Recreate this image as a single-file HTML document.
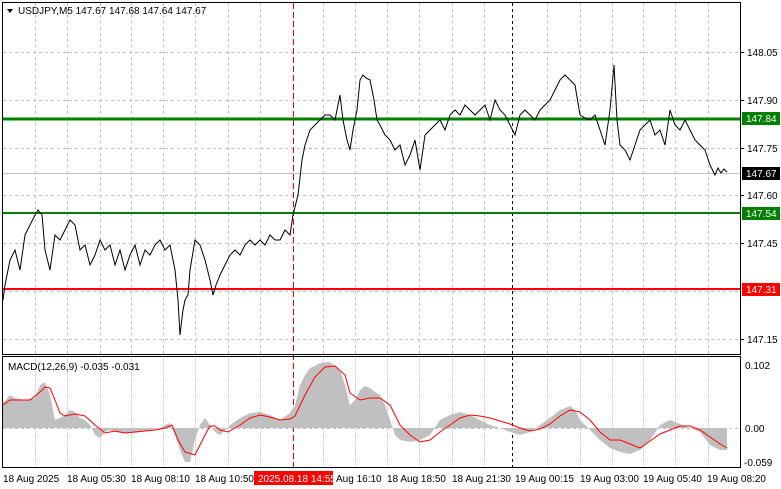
<!DOCTYPE html>
<html><head><meta charset="utf-8"><style>
html,body{margin:0;padding:0;background:#fff;width:781px;height:489px;overflow:hidden}
svg{display:block;font-family:"Liberation Sans",sans-serif;font-size:10px}
</style></head><body>
<svg width="781" height="489" viewBox="0 0 781 489">
<rect width="781" height="489" fill="#fff"/>
<g stroke="#c0c0c0" stroke-dasharray="3,3" stroke-width="1">
<line x1="3" y1="52.5" x2="740" y2="52.5"/><line x1="3" y1="100.5" x2="740" y2="100.5"/>
<line x1="3" y1="148.5" x2="740" y2="148.5"/><line x1="3" y1="195.5" x2="740" y2="195.5"/>
<line x1="3" y1="243.5" x2="740" y2="243.5"/><line x1="3" y1="291.5" x2="740" y2="291.5"/>
<line x1="3" y1="339.5" x2="740" y2="339.5"/>
<line x1="3" y1="428.5" x2="740" y2="428.5"/>
<g id="vg">
<line x1="35.5" y1="3" x2="35.5" y2="354"/><line x1="67.5" y1="3" x2="67.5" y2="354"/><line x1="100.5" y1="3" x2="100.5" y2="354"/><line x1="131.5" y1="3" x2="131.5" y2="354"/><line x1="163.5" y1="3" x2="163.5" y2="354"/><line x1="195.5" y1="3" x2="195.5" y2="354"/><line x1="228.5" y1="3" x2="228.5" y2="354"/><line x1="260.5" y1="3" x2="260.5" y2="354"/><line x1="323.5" y1="3" x2="323.5" y2="354"/><line x1="355.5" y1="3" x2="355.5" y2="354"/><line x1="387.5" y1="3" x2="387.5" y2="354"/><line x1="419.5" y1="3" x2="419.5" y2="354"/><line x1="452.5" y1="3" x2="452.5" y2="354"/><line x1="484.5" y1="3" x2="484.5" y2="354"/><line x1="547.5" y1="3" x2="547.5" y2="354"/><line x1="580.5" y1="3" x2="580.5" y2="354"/><line x1="612.5" y1="3" x2="612.5" y2="354"/><line x1="643.5" y1="3" x2="643.5" y2="354"/><line x1="675.5" y1="3" x2="675.5" y2="354"/><line x1="708.5" y1="3" x2="708.5" y2="354"/>
</g>
<use href="#vg" transform="translate(0,355) scale(1,0.31)"/>
</g>
<line x1="293.5" y1="3" x2="293.5" y2="468" stroke="#e00000" stroke-dasharray="6,3"/>
<line x1="512.5" y1="3" x2="512.5" y2="468" stroke="#000" stroke-dasharray="3,3"/>
<line x1="3" y1="173.5" x2="740" y2="173.5" stroke="#c0c0c0"/>
<line x1="3" y1="119" x2="740" y2="119" stroke="#008000" stroke-width="3"/>
<line x1="3" y1="213" x2="740" y2="213" stroke="#008000" stroke-width="2"/>
<line x1="3" y1="289" x2="740" y2="289" stroke="#ff0000" stroke-width="2"/>
<polyline fill="none" stroke="#000" stroke-width="1" points="3,300 5,285 10,260 15,250 20,270 25,235 30,225 35,215 38,210 42,215 45,250 50,270 55,235 60,240 65,230 70,220 75,225 80,250 85,245 90,265 95,255 100,240 105,250 110,245 115,265 120,250 125,270 130,255 135,245 140,265 145,250 150,255 155,245 160,240 165,250 170,245 175,270 178,300 180,335 183,310 185,300 188,295 190,270 195,240 200,245 205,260 210,280 213,295 216,285 220,275 225,265 230,255 235,250 240,255 245,245 250,240 255,245 260,240 265,245 270,235 275,240 280,240 285,230 290,235 293,215 298,195 302,160 305,145 310,130 315,125 320,120 325,115 330,115 335,120 340,95 343,120 347,140 350,150 353,130 357,110 360,80 363,75 366,78 370,80 374,100 377,120 380,125 385,135 390,140 395,150 400,145 405,165 410,155 415,140 420,170 425,135 430,130 435,125 440,120 445,130 450,115 455,110 460,115 465,105 470,110 475,115 480,110 485,105 490,120 495,100 500,110 505,115 510,125 515,135 520,115 525,110 530,115 535,120 540,110 545,105 550,100 555,90 560,80 565,75 570,80 575,85 580,115 585,118 590,120 595,115 600,130 605,145 610,110 614,65 617,120 620,145 625,150 630,160 635,145 640,130 645,125 650,120 655,135 660,130 665,145 670,110 675,125 680,130 685,120 690,130 695,140 700,145 705,150 710,165 715,175 718,168 721,173 724,169 727,172"/>
<polygon fill="#c0c0c0" points="3,428 3,403 10,395 15,398 25,400 35,398 40,385 45,382 50,395 55,420 60,418 65,415 70,410 75,412 80,418 85,420 90,425 95,435 100,438 105,432 110,430 120,433 130,433 140,432 150,430 160,428 165,425 170,423 175,435 180,450 185,462 190,462 195,440 200,425 205,418 210,425 215,432 220,435 225,430 230,425 240,418 250,413 260,412 270,415 280,420 290,413 295,405 300,385 305,375 310,368 315,366 320,363 330,362 340,370 345,385 350,405 355,400 360,390 365,386 370,388 375,392 380,395 385,405 390,420 395,435 400,440 410,442 420,440 430,435 440,420 450,415 460,412 470,415 480,420 490,425 500,428 510,432 520,435 530,432 540,425 550,418 560,410 570,406 575,410 580,420 590,430 600,440 610,448 620,452 630,454 640,450 650,440 660,425 670,420 680,424 690,428 700,432 710,445 720,450 727,450 727,428"/>
<polyline fill="none" stroke="#ff0000" stroke-width="1" points="3,405 10,400 20,400 30,400 40,392 45,387 50,388 55,400 60,413 65,416 75,414 85,416 95,425 105,433 115,431 125,433 135,432 145,431 155,430 165,428 172,425 178,440 185,452 195,455 200,445 205,435 210,426 215,426 220,430 228,432 240,425 250,418 260,415 270,417 280,420 290,419 295,416 305,395 315,377 325,367 335,366 345,375 350,393 360,400 370,398 380,398 390,405 400,425 410,435 420,442 430,440 440,432 450,425 460,418 470,415 480,416 490,418 500,421 510,424 520,428 530,431 540,429 550,424 560,416 570,410 580,412 590,420 600,432 610,440 620,440 630,444 640,448 650,441 660,434 670,430 680,426 690,426 700,430 710,437 720,444 727,448"/>
<rect x="2.5" y="2.5" width="738" height="352" fill="none" stroke="#000"/>
<rect x="2.5" y="356.5" width="738" height="111" fill="none" stroke="#000"/>
<polygon points="7,9 13,9 10,13" fill="#000"/>
<text x="18" y="14" fill="#000">USDJPY,M5  147.67 147.68 147.64 147.67</text>
<text x="8" y="370" fill="#000">MACD(12,26,9) -0.035 -0.031</text>
<g fill="#000">
<text x="747" y="56">148.05</text><text x="747" y="104">147.90</text><text x="747" y="152">147.75</text>
<text x="747" y="199">147.60</text><text x="747" y="247">147.45</text><text x="747" y="343">147.15</text>
<text x="745" y="369">0.102</text><text x="745" y="432">0.00</text><text x="744" y="466">-0.059</text>
</g>
<g stroke="#000"><line x1="740" y1="52.5" x2="744" y2="52.5"/><line x1="740" y1="100.5" x2="744" y2="100.5"/><line x1="740" y1="148.5" x2="744" y2="148.5"/><line x1="740" y1="195.5" x2="744" y2="195.5"/><line x1="740" y1="243.5" x2="744" y2="243.5"/><line x1="740" y1="339.5" x2="744" y2="339.5"/></g>
<rect x="742" y="112" width="38" height="13" fill="#008000"/><text x="746" y="122" fill="#fff">147.84</text>
<rect x="742" y="167" width="38" height="13" fill="#000"/><text x="746" y="177" fill="#fff">147.67</text>
<rect x="742" y="207" width="38" height="13" fill="#008000"/><text x="746" y="217" fill="#fff">147.54</text>
<rect x="742" y="283" width="38" height="13" fill="#ff0000"/><text x="746" y="293" fill="#fff">147.31</text>
<g fill="#000">
<text x="3" y="482">18 Aug 2025</text><text x="67" y="482">18 Aug 05:30</text><text x="131" y="482">18 Aug 08:10</text>
<text x="195" y="482">18 Aug 10:50</text><text x="336" y="482">Aug 16:10</text><text x="387" y="482">18 Aug 18:50</text>
<text x="452" y="482">18 Aug 21:30</text><text x="515" y="482">19 Aug 00:15</text><text x="580" y="482">19 Aug 03:00</text>
<text x="643" y="482">19 Aug 05:40</text><text x="707" y="482">19 Aug 08:20</text>
</g>
<rect x="254" y="471" width="79" height="14" fill="#ff0000"/><text x="258" y="482" fill="#fff">2025.08.18 14:55</text>
</svg>
</body></html>
